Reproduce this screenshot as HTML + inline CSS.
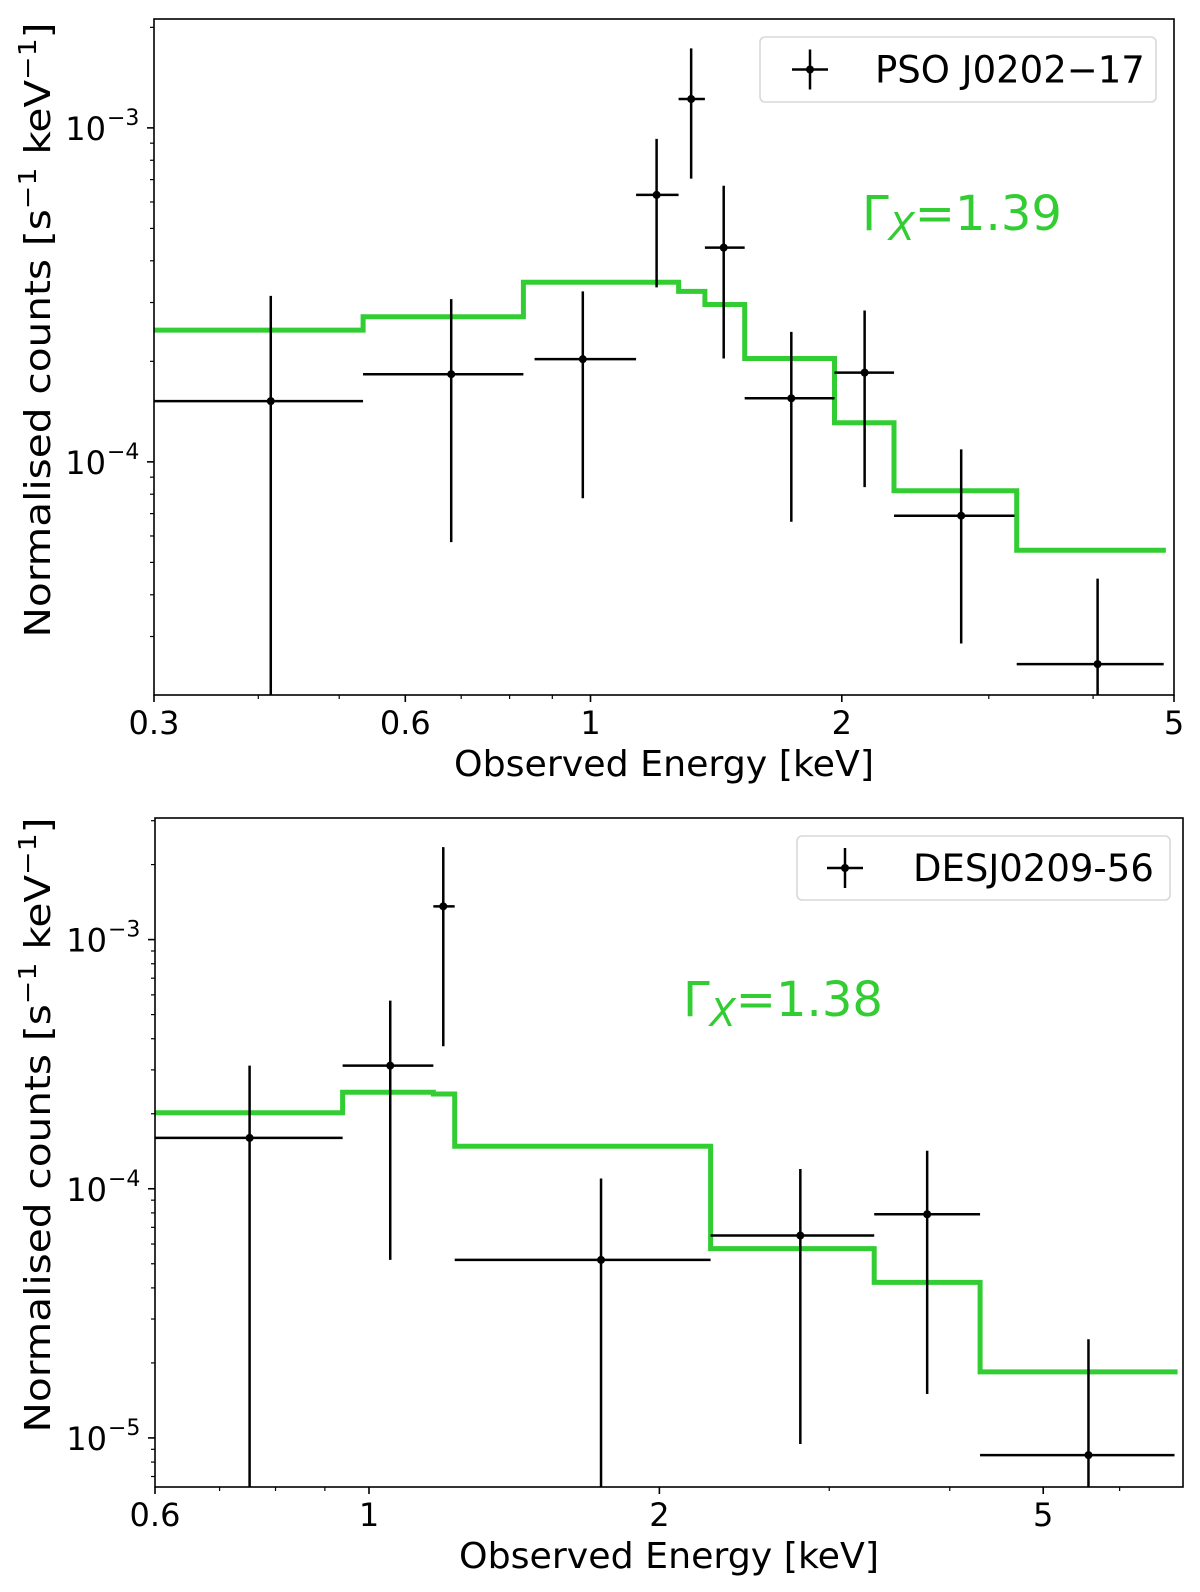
<!DOCTYPE html>
<html><head><meta charset="utf-8"><style>
html,body{margin:0;padding:0;background:#fff;}
svg{display:block;font-family:"DejaVu Sans","Liberation Sans",sans-serif;}
</style></head><body>
<svg id="fig" width="1200" height="1592" viewBox="0 0 1200 1592" xmlns="http://www.w3.org/2000/svg"></svg>
<script>
// ---- Top panel data (PSO J0202-17) ----
const topE    = [0.414, 0.681, 0.979, 1.20, 1.32, 1.444, 1.74, 2.13, 2.78, 4.05];
const topElo  = [0.30, 0.534, 0.857, 1.134, 1.275, 1.371, 1.53, 1.96, 2.31, 3.24];
const topEhi  = [0.534, 0.831, 1.134, 1.275, 1.371, 1.53, 1.96, 2.31, 3.22, 4.86];
const topV    = [1.52e-4, 1.83e-4, 2.03e-4, 6.3e-4, 1.22e-3, 4.38e-4, 1.55e-4, 1.85e-4, 6.9e-5, 2.48e-5];
const topVhi  = [3.14e-4, 3.07e-4, 3.24e-4, 9.27e-4, 1.73e-3, 6.71e-4, 2.45e-4, 2.84e-4, 1.09e-4, 4.47e-5];
const topVlo  = [1e-7, 5.75e-5, 7.78e-5, 3.33e-4, 7.05e-4, 2.04e-4, 6.62e-5, 8.4e-5, 2.86e-5, 1e-7];
const topModelEdges  = [0.30, 0.534, 0.831, 1.275, 1.371, 1.53, 1.96, 2.31, 3.24, 4.89];
const topModelLevels = [2.48e-4, 2.72e-4, 3.45e-4, 3.24e-4, 2.96e-4, 2.04e-4, 1.31e-4, 8.2e-5, 5.44e-5];
const topXTicks = [0.3, 0.6, 1, 2, 5];
const topXTickLabels = ["0.3", "0.6", "1", "2", "5"];
const topXMinor = [0.4, 0.5, 0.7, 0.8, 0.9, 3, 4];

// ---- Bottom panel data (DESJ0209-56) ----
const botE    = [0.752, 1.052, 1.194, 1.74, 2.80, 3.79, 5.57];
const botElo  = [0.60, 0.939, 1.166, 1.227, 2.26, 3.34, 4.30];
const botEhi  = [0.939, 1.166, 1.227, 2.26, 3.34, 4.30, 6.84];
const botV    = [1.6e-4, 3.12e-4, 1.36e-3, 5.18e-5, 6.49e-5, 7.9e-5, 8.53e-6];
const botVhi  = [3.12e-4, 5.69e-4, 2.35e-3, 1.1e-4, 1.2e-4, 1.42e-4, 2.49e-5];
const botVlo  = [1e-7, 5.18e-5, 3.73e-4, 1e-7, 9.45e-6, 1.5e-5, 1e-7];
const botModelEdges  = [0.60, 0.939, 1.166, 1.227, 2.26, 3.34, 4.30, 6.89];
const botModelLevels = [2.02e-4, 2.44e-4, 2.4e-4, 1.48e-4, 5.75e-5, 4.21e-5, 1.84e-5];
const botXTicks = [0.6, 1, 2, 5];
const botXTickLabels = ["0.6", "1", "2", "5"];
const botXMinor = [0.7, 0.8, 0.9, 3, 4, 6, 7];

const NS = "http://www.w3.org/2000/svg";
const svg = document.getElementById("fig");
function mk(tag, attrs, parent) {
  const e = document.createElementNS(NS, tag);
  for (const k in attrs) e.setAttribute(k, attrs[k]);
  (parent || svg).appendChild(e);
  return e;
}

function panel(p) {
  const g = mk("g", {});
  
  
  const lx0 = Math.log10(p.xmin), lx1 = Math.log10(p.xmax);
  const ly0 = Math.log10(p.ymin), ly1 = Math.log10(p.ymax);
  const X = v => p.L + (Math.log10(v) - lx0) / (lx1 - lx0) * (p.R - p.L);
  const Y = v => p.B - (Math.log10(v) - ly0) / (ly1 - ly0) * (p.B - p.T);
  const cy = v => Math.max(p.T, Math.min(p.B, Y(v)));
  const cx = v => Math.max(p.L, Math.min(p.R, X(v)));

  const clipId = p.name + "-clip";
  const defs = mk("defs", {}, g);
  const cp = mk("clipPath", {id: clipId}, defs);
  mk("rect", {x: p.L, y: p.T, width: p.R - p.L, height: p.B - p.T}, cp);

  let d = "";
  for (let i = 0; i < p.levels.length; i++) {
    const x0 = X(p.edges[i]), x1 = X(p.edges[i + 1]), y = Y(p.levels[i]);
    d += (i === 0 ? "M" : "L") + x0.toFixed(1) + "," + y.toFixed(1) + " L" + x1.toFixed(1) + "," + y.toFixed(1) + " ";
  }
  const model = mk("path", {d: d, fill: "none", stroke: "#32cd32", "stroke-width": 5, "clip-path": "url(#" + clipId + ")"}, g);
  
  

  for (let i = 0; i < p.E.length; i++) {
    const pt = mk("g", {"clip-path": "url(#" + clipId + ")"}, g);
    
    
    const x = X(p.E[i]), y = Y(p.V[i]);
    mk("line", {x1: cx(p.Elo[i]), x2: cx(p.Ehi[i]), y1: y, y2: y, stroke: "#000", "stroke-width": 2.5}, pt);
    mk("line", {x1: x, x2: x, y1: cy(p.Vhi[i]), y2: cy(p.Vlo[i]), stroke: "#000", "stroke-width": 2.5}, pt);
    mk("circle", {cx: x, cy: y, r: 4, fill: "#000"}, pt);
  }

  const frame = mk("rect", {x: p.L, y: p.T, width: p.R - p.L, height: p.B - p.T, fill: "none", stroke: "#000", "stroke-width": 1.6}, g);
  
  

  p.xticks.forEach((t, i) => {
    const x = X(t);
    mk("line", {x1: x, x2: x, y1: p.B, y2: p.B + 7, stroke: "#000", "stroke-width": 1.6}, g);
    const tl = mk("text", {x: x, y: p.B + 39, "font-size": 32, "text-anchor": "middle", fill: "#000"}, g);
    tl.textContent = p.xlabels[i];
    
    
  });
  p.xminor.forEach(t => {
    if (t <= p.xmin || t >= p.xmax) return;
    const x = X(t);
    mk("line", {x1: x, x2: x, y1: p.B, y2: p.B + 4, stroke: "#000", "stroke-width": 1.2}, g);
  });
  for (let k = Math.floor(ly0); k <= Math.ceil(ly1); k++) {
    for (let m = 1; m <= 9; m++) {
      const v = m * Math.pow(10, k);
      if (v < p.ymin || v > p.ymax) continue;
      const y = Y(v);
      mk("line", {x1: p.L, x2: p.L - (m === 1 ? 7 : 4), y1: y, y2: y, stroke: "#000", "stroke-width": m === 1 ? 1.6 : 1.2}, g);
      if (m === 1) {
        const tl = mk("text", {x: p.L - 48, y: y + 12, "font-size": 32, "text-anchor": "end", fill: "#000"}, g);
        tl.textContent = "10";
        
        
        const sp = mk("text", {x: p.L - 47, y: y - 3, "font-size": 22, "text-anchor": "start", fill: "#000"}, g);
        sp.textContent = "\u2212" + (-k);
      }
    }
  }
  const xl = mk("text", {x: (p.L + p.R) / 2, y: p.B + 81, "font-size": 36, "text-anchor": "middle", fill: "#000", textLength: 420, lengthAdjust: "spacingAndGlyphs"}, g);
  xl.textContent = "Observed Energy [keV]";
  
  
  const yl = mk("text", {x: 0, y: 0, "font-size": 36, "text-anchor": "middle", fill: "#000", textLength: 615, lengthAdjust: "spacingAndGlyphs", transform: "translate(50," + p.ylc + ") rotate(-90)"}, g);
  yl.innerHTML = 'Normalised counts [s<tspan dy="-14" font-size="25">\u22121</tspan><tspan dy="14"> keV</tspan><tspan dy="-14" font-size="25">\u22121</tspan><tspan dy="14">]</tspan>';
  
  

  const lg = mk("g", {}, g);
  
  
  mk("rect", {x: p.leg.x, y: p.leg.y, width: p.leg.w, height: p.leg.h, rx: 5, fill: "#fff", stroke: "#d8d8d8", "stroke-width": 1.6}, lg);
  const mx = p.leg.mx, my = p.leg.y + p.leg.h / 2;
  mk("line", {x1: mx - 18, x2: mx + 18, y1: my, y2: my, stroke: "#000", "stroke-width": 2.5}, lg);
  mk("line", {x1: mx, x2: mx, y1: my - 20, y2: my + 20, stroke: "#000", "stroke-width": 2.5}, lg);
  mk("circle", {cx: mx, cy: my, r: 4, fill: "#000"}, lg);
  const lt = mk("text", {x: p.leg.tx, y: my + 13, "font-size": 37, fill: "#000"}, lg);
  lt.textContent = p.leg.text;
  
  

  const ga = mk("text", {x: p.gam.x, y: p.gam.y, "font-size": 48, fill: "#32cd32"}, g);
  ga.innerHTML = '\u0393<tspan dy="10" font-size="38" font-style="italic">X</tspan><tspan dy="-10">=' + p.gam.val + '</tspan>';
  
  
}

panel({name: "top-panel", L: 154, R: 1174, T: 19, B: 695, ylc: 330,
  xmin: 0.3, xmax: 5, ymin: Math.pow(10, -4.698), ymax: Math.pow(10, -2.674),
  E: topE, Elo: topElo, Ehi: topEhi, V: topV, Vhi: topVhi, Vlo: topVlo,
  edges: topModelEdges, levels: topModelLevels,
  xticks: topXTicks, xlabels: topXTickLabels, xminor: topXMinor,
  leg: {x: 760, y: 37, w: 396, h: 65, mx: 810, tx: 875, text: "PSO J0202\u221217"},
  gam: {x: 862, y: 230, val: "1.39"}});

panel({name: "bottom-panel", L: 155, R: 1183, T: 818, B: 1487, ylc: 1125,
  xmin: 0.6, xmax: 6.98, ymin: Math.pow(10, -5.197), ymax: Math.pow(10, -2.512),
  E: botE, Elo: botElo, Ehi: botEhi, V: botV, Vhi: botVhi, Vlo: botVlo,
  edges: botModelEdges, levels: botModelLevels,
  xticks: botXTicks, xlabels: botXTickLabels, xminor: botXMinor,
  leg: {x: 797, y: 836, w: 373, h: 64, mx: 845, tx: 913, text: "DESJ0209-56"},
  gam: {x: 683, y: 1016, val: "1.38"}});
</script>
</body></html>
